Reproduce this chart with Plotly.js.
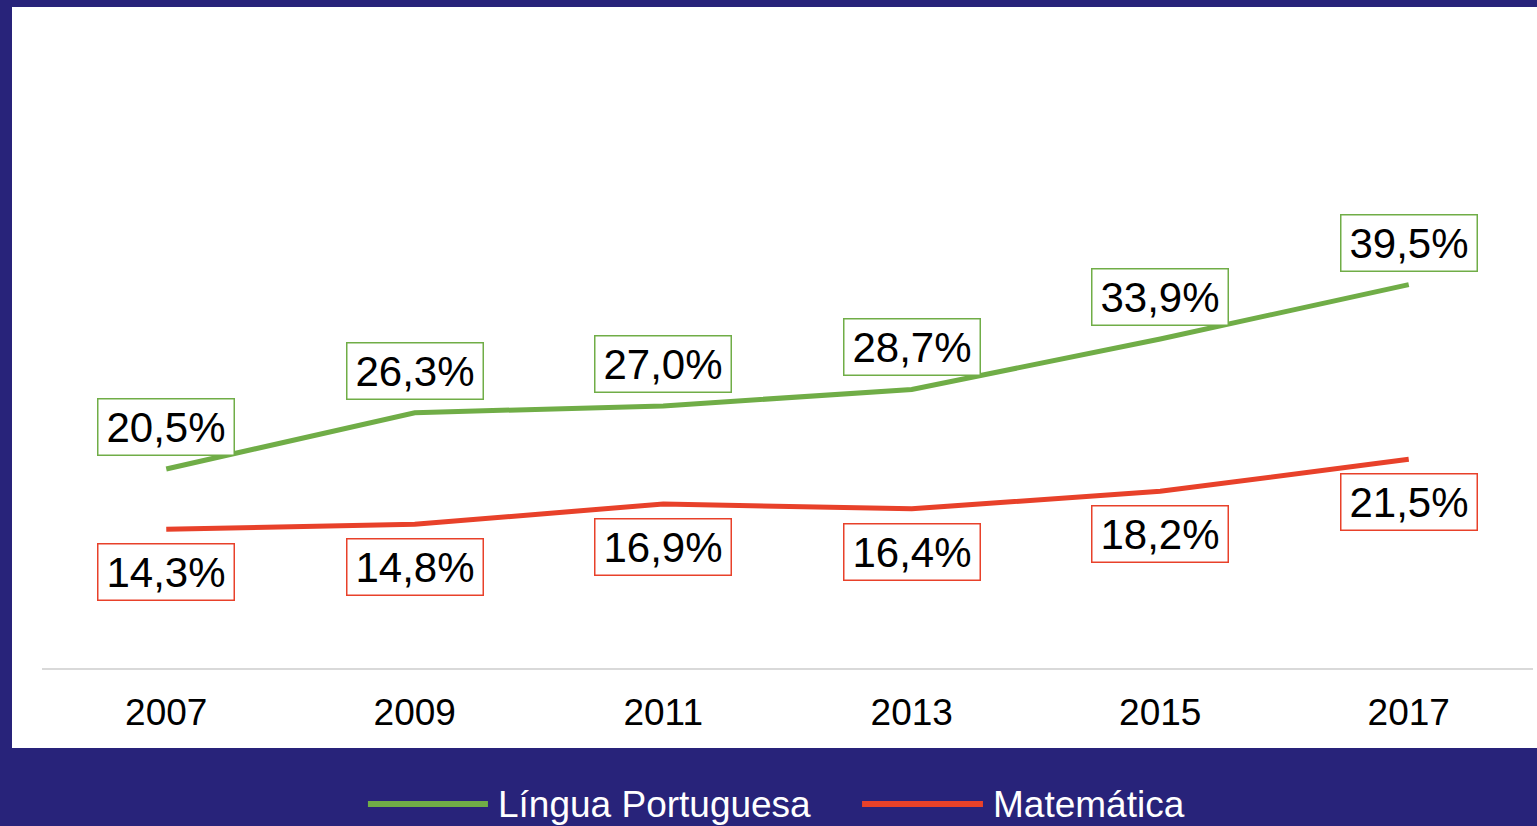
<!DOCTYPE html>
<html>
<head>
<meta charset="utf-8">
<script src="https://cdn.plot.ly/plotly-3.0.1.min.js"></script>
<style>
html,body{margin:0;padding:0;background:#28237a;}
#chart{width:1537px;height:826px;}
</style>
</head>
<body>
<div id="chart"></div>
<script>
const years = ['2007', '2009', '2011', '2013', '2015', '2017'];
const seriesNames = ['Língua Portuguesa', 'Matemática'];
const portugues = [20.5, 26.3, 27.0, 28.7, 33.9, 39.5];
const matematica = [14.3, 14.8, 16.9, 16.4, 18.2, 21.5];

const GREEN = '#70ad47';
const RED = '#e8412a';
const NAVY = '#28237a';
const FONT = 'Liberation Sans, Arial, sans-serif';

function fmt(v) { return v.toFixed(1).replace('.', ',') + '%'; }

const traces = [
  {x: years, y: portugues, type: 'scatter', mode: 'lines', name: seriesNames[0],
   line: {color: GREEN, width: 5}, hoverinfo: 'skip'},
  {x: years, y: matematica, type: 'scatter', mode: 'lines', name: seriesNames[1],
   line: {color: RED, width: 5}, hoverinfo: 'skip'}
];

const annotations = [];
function addLabels(vals, color, shift) {
  vals.forEach((v, i) => {
    annotations.push({
      x: i, y: v, xref: 'x', yref: 'y', text: fmt(v), showarrow: false,
      xanchor: 'center', yanchor: 'middle',
      yshift: shift, font: {family: FONT, size: 42, color: '#000000'},
      bgcolor: '#ffffff', bordercolor: color, borderwidth: 1.5, borderpad: 1,
      width: 133, height: 53, align: 'center', valign: 'middle'
    });
  });
}
addLabels(portugues, GREEN, 42);
addLabels(matematica, RED, -43);

// legend (manual, to match long legend lines)
const legendItems = [
  {name: seriesNames[0], color: GREEN, x0: 0.2186, x1: 0.2991, tx: 0.3045},
  {name: seriesNames[1], color: RED, x0: 0.5500, x1: 0.6311, tx: 0.6365}
];
const shapes = [
  {type: 'rect', xref: 'paper', yref: 'paper', x0: -0.02012, x1: 1.0030, y0: -0.12346, y1: 1.0201,
   fillcolor: '#ffffff', line: {width: 0}, layer: 'below'}
];
legendItems.forEach(it => {
  shapes.push({type: 'line', xref: 'paper', yref: 'paper', x0: it.x0, x1: it.x1, y0: -0.2099, y1: -0.2099,
    line: {color: it.color, width: 6}});
  annotations.push({xref: 'paper', yref: 'paper', x: it.tx, y: -0.2099, xanchor: 'left', yanchor: 'middle',
    text: it.name, showarrow: false, font: {family: FONT, size: 37, color: '#ffffff'}});
});

const layout = {
  width: 1537, height: 826,
  margin: {l: 42, r: 4, t: 20, b: 158, pad: 0},
  paper_bgcolor: NAVY, plot_bgcolor: '#ffffff',
  showlegend: false,
  xaxis: {type: 'category', range: [-0.5, 5.5], showgrid: false, zeroline: false,
    showline: true, linecolor: '#d9d9d9', linewidth: 2, ticks: '', ticklabelstandoff: 11,
    tickfont: {family: FONT, size: 37, color: '#000'}, fixedrange: true},
  yaxis: {range: [0, 66.76], showgrid: false, zeroline: false, showline: false,
    showticklabels: false, ticks: '', fixedrange: true},
  shapes: shapes,
  annotations: annotations
};

Plotly.newPlot('chart', traces, layout, {displayModeBar: false, staticPlot: true});
</script>
</body>
</html>
